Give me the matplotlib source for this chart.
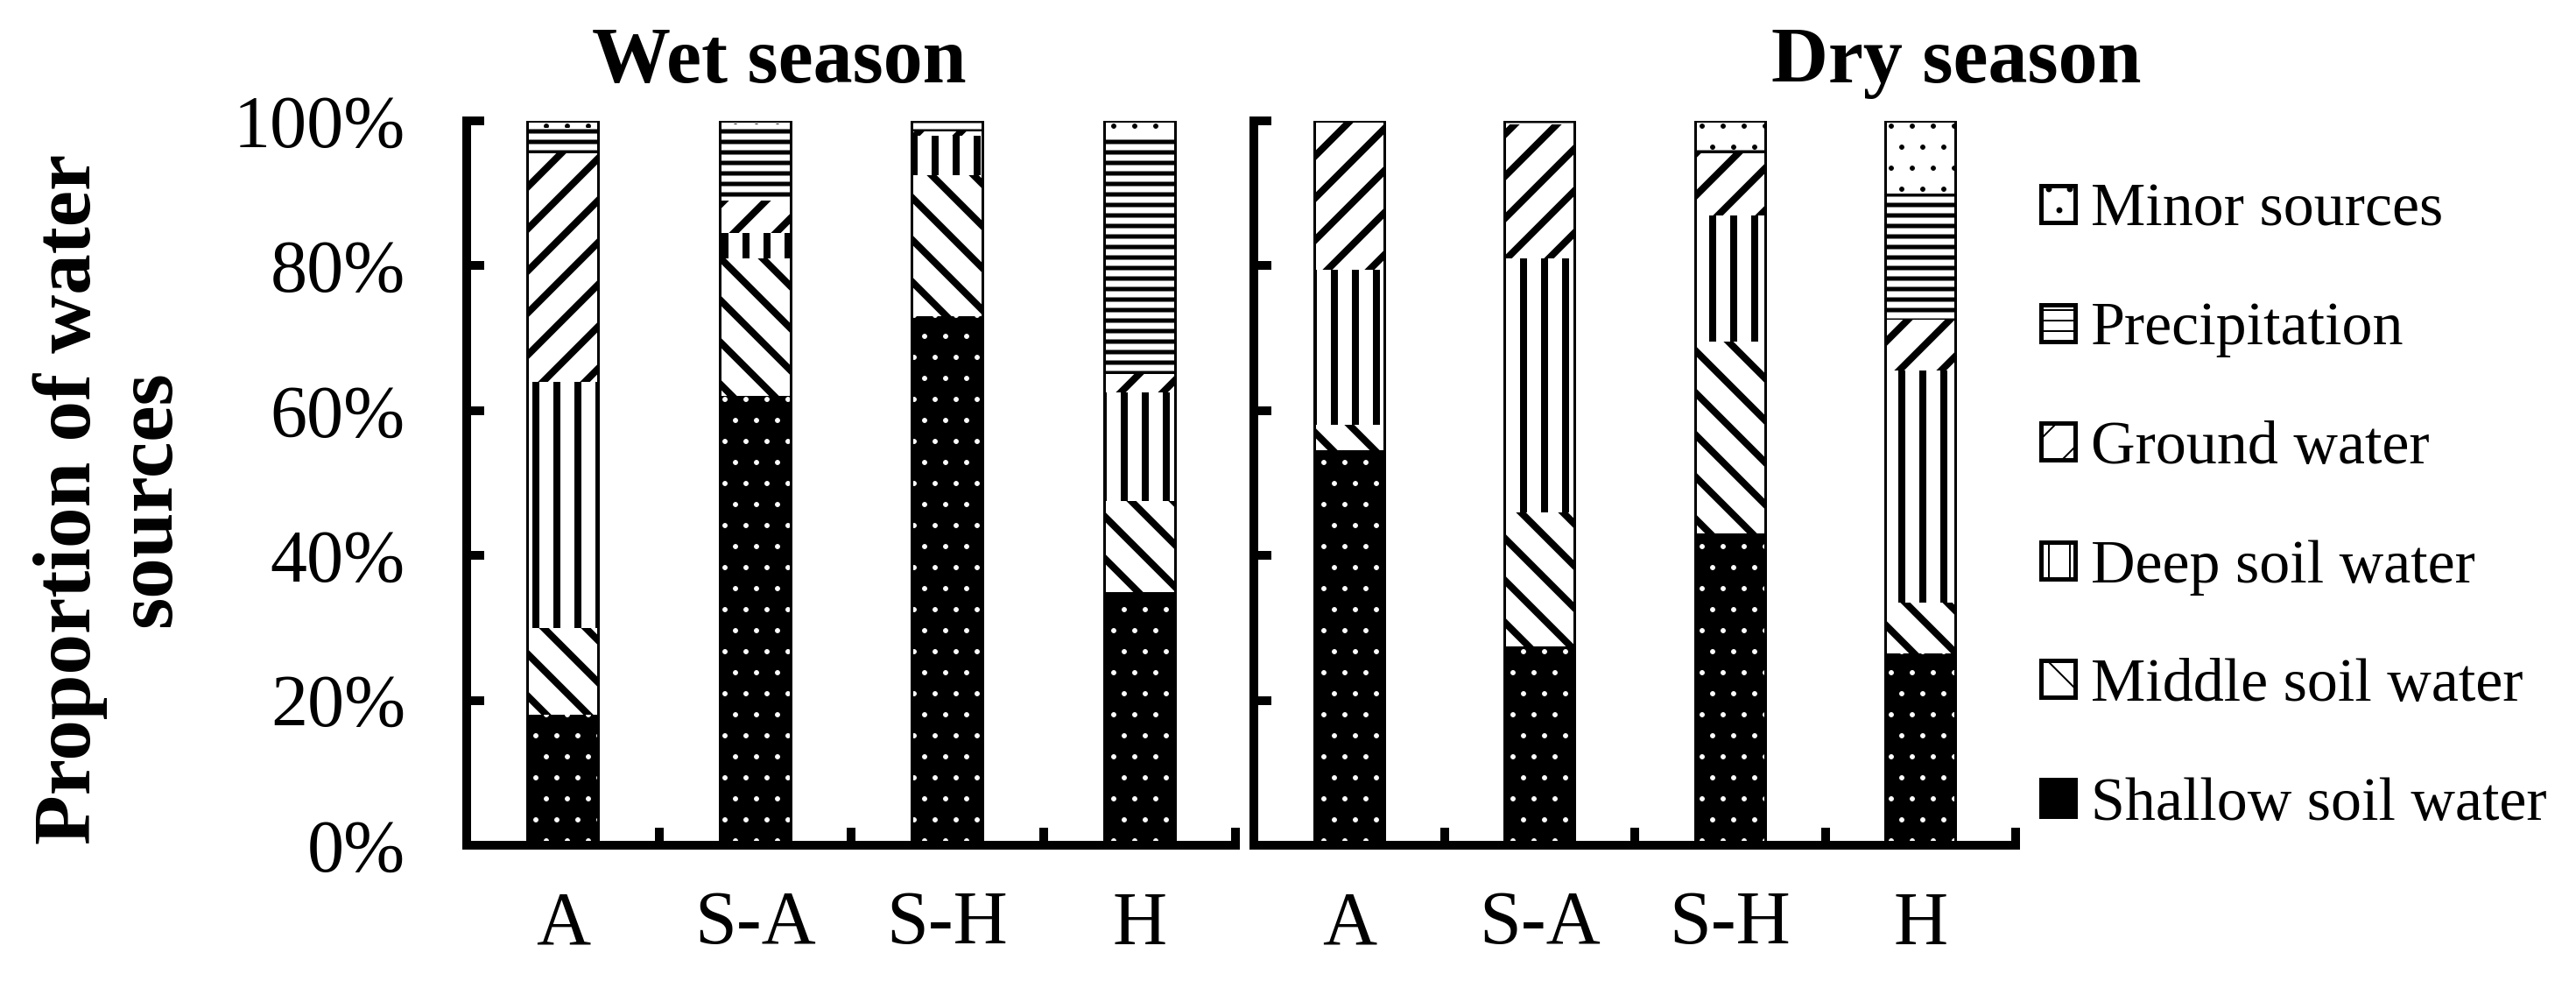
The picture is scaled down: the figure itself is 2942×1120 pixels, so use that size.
import matplotlib
matplotlib.use("Agg")
import matplotlib.pyplot as plt
from matplotlib.patches import Patch
import numpy as np

plt.rcParams['font.family'] = ['Liberation Serif', 'DejaVu Serif']

sites = ['A', 'S-A', 'S-H', 'H']
sources = ['Shallow soil water', 'Middle soil water', 'Deep soil water',
           'Ground water', 'Precipitation', 'Minor sources']

# proportions (%) bottom -> top
wet_shallow = [18.0, 62.0, 73.0, 35.0]
wet_middle = [12.0, 19.0, 19.5, 12.5]
wet_deep = [34.0, 3.5, 5.5, 15.0]
wet_ground = [31.5, 4.5, 0.5, 2.5]
wet_precip = [3.5, 10.5, 1.2, 33.0]
wet_minor = [1.0, 0.5, 0.3, 2.0]

dry_shallow = [54.5, 27.5, 43.0, 26.5]
dry_middle = [3.5, 18.5, 26.5, 7.0]
dry_deep = [21.5, 35.0, 17.5, 32.0]
dry_ground = [20.5, 18.5, 8.5, 7.0]
dry_precip = [0.0, 0.3, 0.5, 17.5]
dry_minor = [0.0, 0.2, 4.0, 10.0]

wet = [wet_shallow, wet_middle, wet_deep, wet_ground, wet_precip, wet_minor]
dry = [dry_shallow, dry_middle, dry_deep, dry_ground, dry_precip, dry_minor]

DPI = 144  # hatch spacing scales with dpi


def px(v):
    # pixels -> points
    return v * 72 / DPI


# face, hatch colour, hatch, hatch linewidth (px)
styles = [('black', 'white', '.', 1.0),
          ('white', 'black', '\\', 8.0),
          ('white', 'black', '|', 8.0),
          ('white', 'black', '/', 8.0),
          ('white', 'black', '--', 5.0),
          ('white', 'black', '.', 1.0)]

W, H = 2942, 1120
fig = plt.figure(figsize=(W / DPI, H / DPI), dpi=DPI)
ax1 = fig.add_axes([533 / W, 1 - 965 / H, (1411 - 533) / W, (965 - 138) / H])
ax2 = fig.add_axes([1432 / W, 1 - 965 / H, (2302 - 1432) / W, (965 - 138) / H])

x = np.arange(len(sites))
bw = 0.37


def stacked(ax, data):
    bottom = np.zeros(len(sites))
    for vals, (fc, hc, hatch, hlw) in zip(data, styles):
        with plt.rc_context({'hatch.linewidth': px(hlw)}):
            bars = ax.bar(x, vals, bw, bottom=bottom, color=fc, edgecolor=hc,
                          hatch=hatch, linewidth=0)
        for b in bars:
            if hasattr(b, 'set_hatch_linewidth'):
                b.set_hatch_linewidth(px(hlw))
        bottom += np.array(vals)
    ax.bar(x, bottom, bw, fill=False, edgecolor='black', linewidth=px(3))


for ax, data in [(ax1, wet), (ax2, dry)]:
    stacked(ax, data)
    ax.set_xlim(-0.5, 3.5)
    ax.set_ylim(0, 100)
    for s in ['top', 'right']:
        ax.spines[s].set_visible(False)
    for s in ['left', 'bottom']:
        ax.spines[s].set_linewidth(px(10))
    ax.set_yticks(np.arange(0, 101, 20))
    ax.tick_params(axis='y', direction='in', length=px(20), width=px(10),
                   pad=px(70), labelsize=px(84))
    ax.set_xticks(np.arange(-0.5, 3.6, 1.0))
    ax.set_xticklabels([])
    ax.set_xticks(x, minor=True)
    ax.set_xticklabels(sites, minor=True)
    ax.tick_params(axis='x', which='major', direction='in', length=px(20),
                   width=px(10))
    ax.tick_params(axis='x', which='minor', length=0, pad=px(52),
                   labelsize=px(86))

ax1.set_yticklabels([f'{v}%' for v in range(0, 101, 20)])
ax2.set_yticklabels([])

fig.text(126 / W, 1 - 570 / H, 'Proportion of water\nsources', rotation=90,
         ha='center', va='center', fontsize=px(93), fontweight='bold',
         linespacing=1.1)
fig.text(890 / W, 1 - 94 / H, 'Wet season', ha='center', va='baseline',
         fontsize=px(90), fontweight='bold')
fig.text(2234 / W, 1 - 94 / H, 'Dry season', ha='center', va='baseline',
         fontsize=px(90), fontweight='bold')

handles = []
for (fc, hc, hatch, hlw), name in zip(styles, sources):
    hcol = 'black' if fc == 'black' else hc
    handles.append(Patch(facecolor=fc, edgecolor=hcol, hatch=hatch,
                         linewidth=px(5), label=name))
fig.legend(handles[::-1], sources[::-1], loc='center left',
           bbox_to_anchor=(2331 / W, 1 - 580 / H), frameon=False,
           fontsize=px(70), handlelength=0.55, handleheight=0.55,
           handletextpad=0.27, labelspacing=1.03, borderaxespad=0, borderpad=0)

fig.savefig('out.png', dpi=DPI)
